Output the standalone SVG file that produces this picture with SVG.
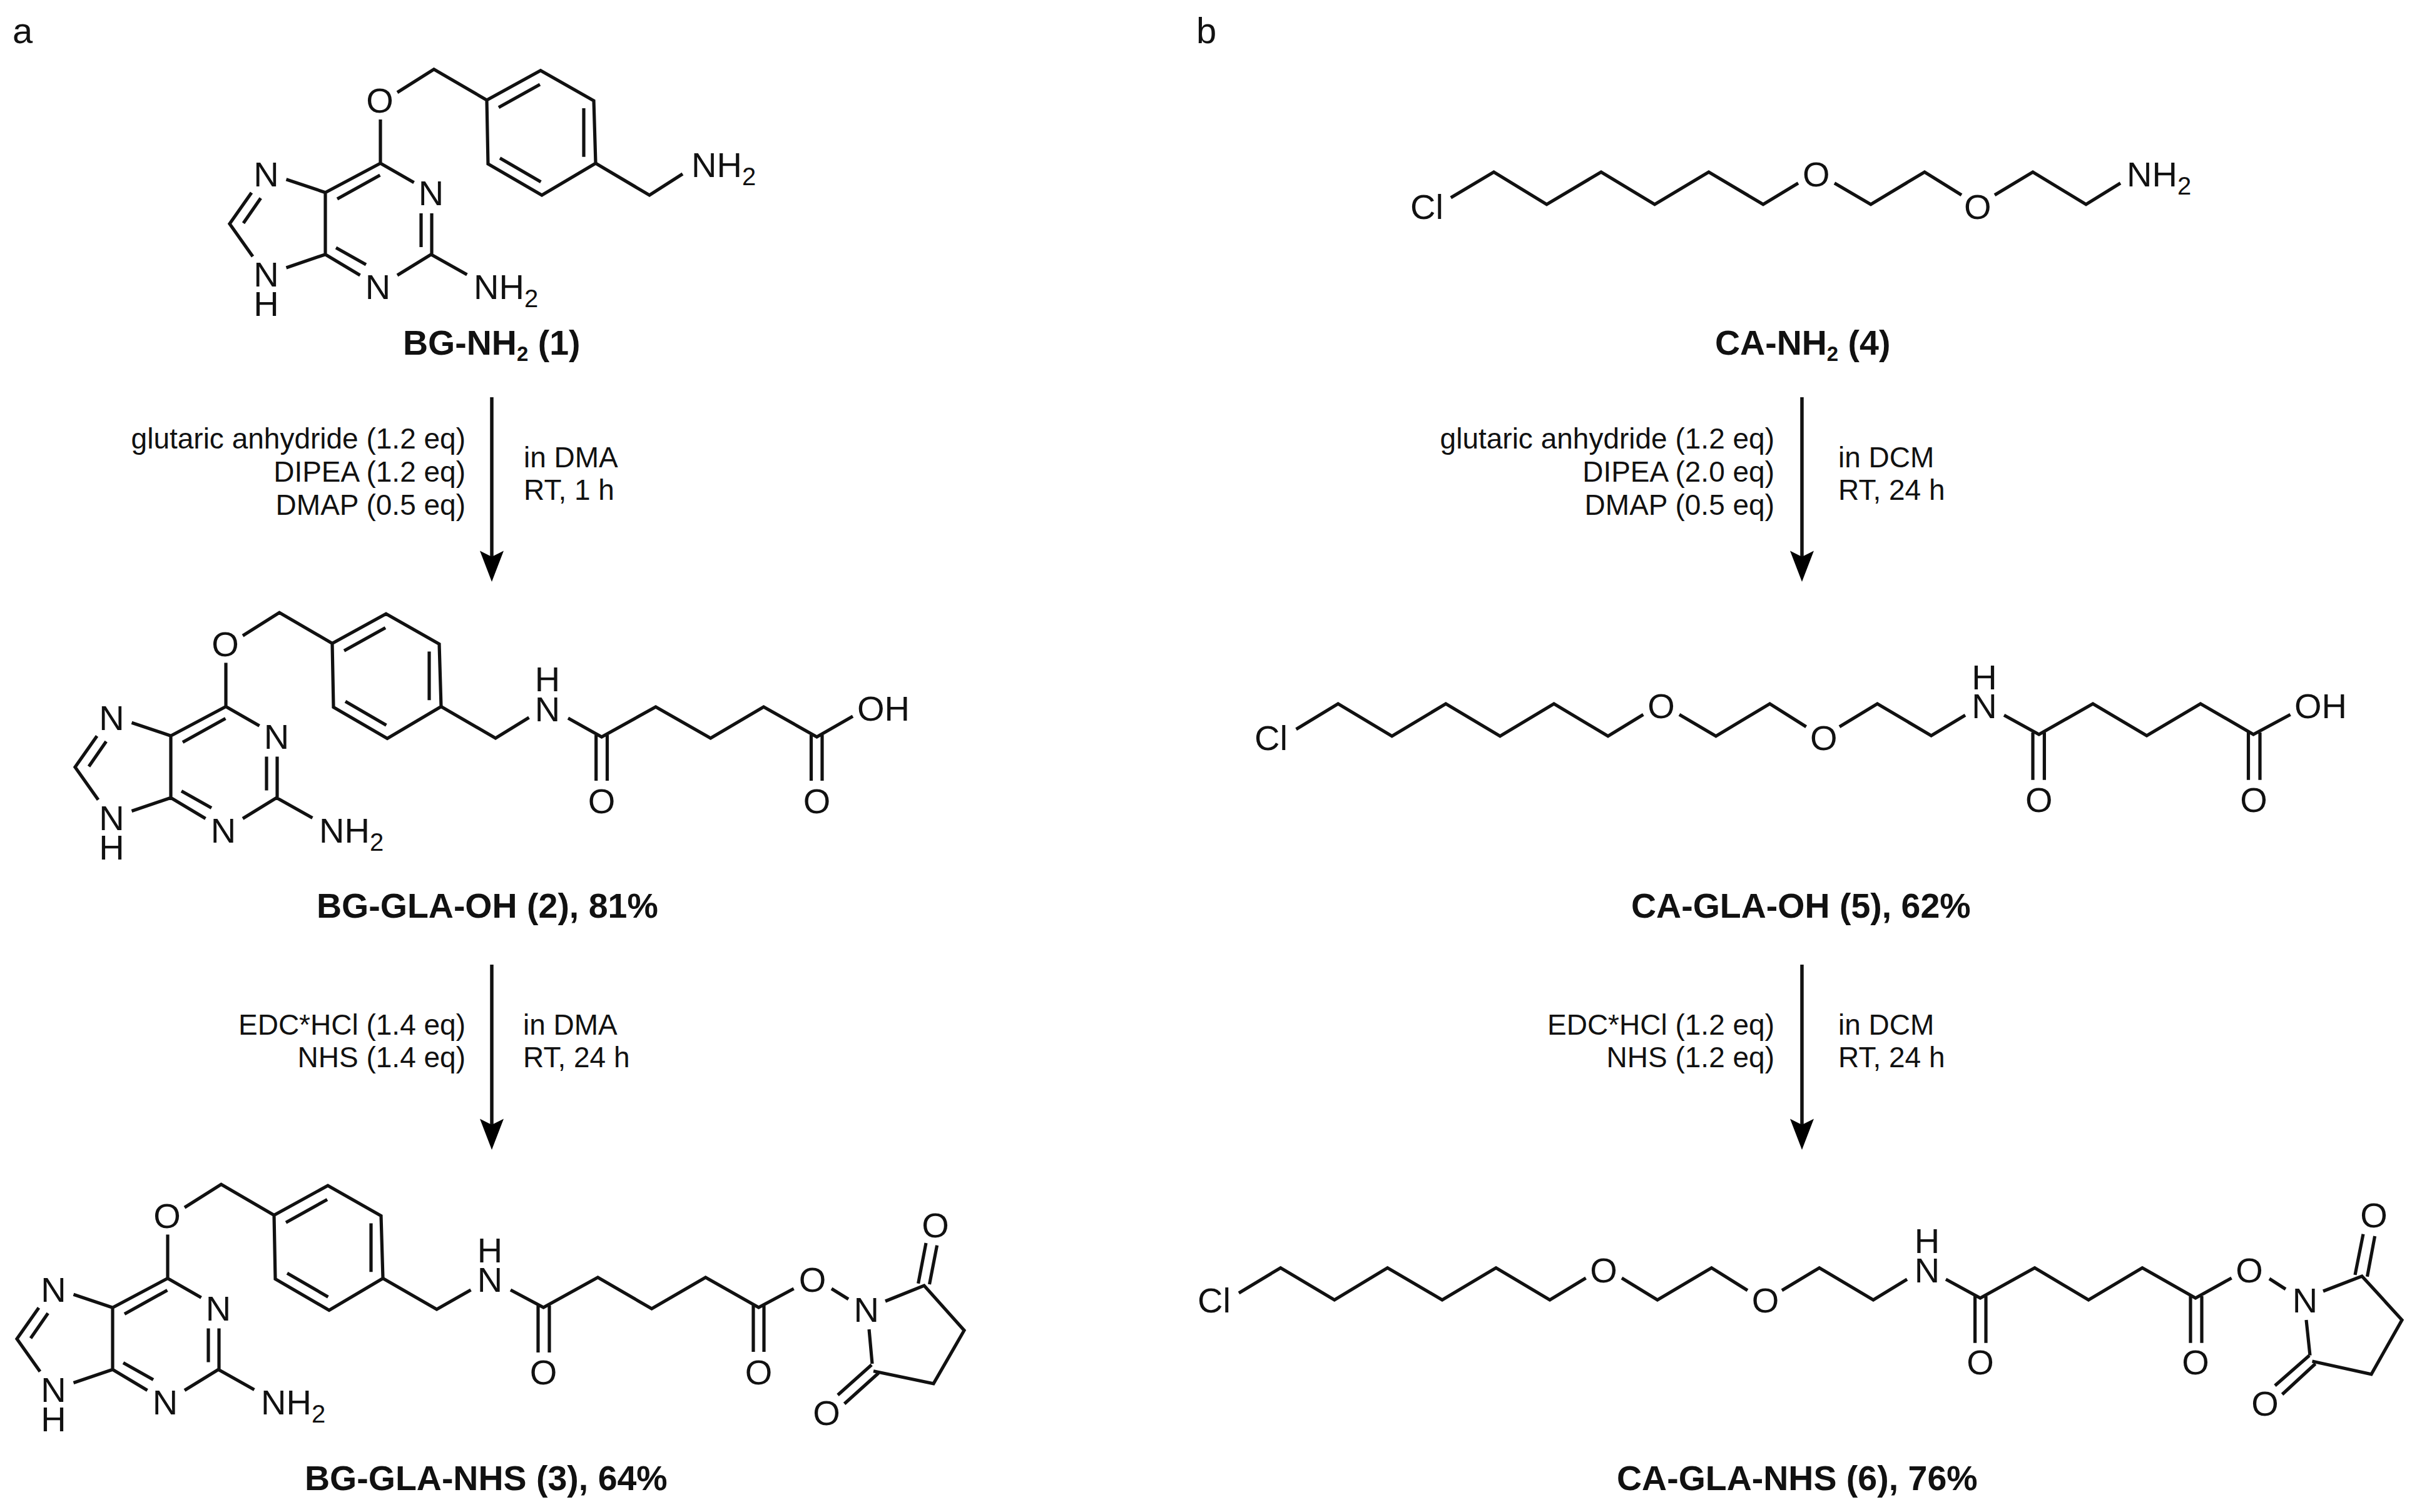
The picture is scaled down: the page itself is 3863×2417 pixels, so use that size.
<svg xmlns="http://www.w3.org/2000/svg" xmlns:xlink="http://www.w3.org/1999/xlink" width="3863" height="2417" viewBox="0 0 3863 2417">
<style>
text{font-family:"Liberation Sans",Arial,sans-serif;fill:#111}
.atom{font-size:56px;text-anchor:middle}
.atoms{font-size:56px}
.sub{font-size:40px}
.cond{font-size:46px}
.condr{font-size:46px;text-anchor:end}
.name{font-size:55.5px;font-weight:bold}
.lsub{font-size:33px}
.panel{font-size:58px}
.bond{fill:none;stroke:#111;stroke-width:5.2;stroke-linejoin:miter;stroke-linecap:butt}
.arrow{fill:none;stroke:#111;stroke-width:5.5}
</style>
<defs>
<marker id="head" markerUnits="userSpaceOnUse" viewBox="-10 -20 50 40" markerWidth="50" markerHeight="40" refX="0" refY="0" orient="auto">
<path d="M-9.5,-19 L40,0 L-9.5,19 L0,0Z" fill="#000"/>
</marker>
<path id="bg-core" class="bond" d="M608,191V261L520,307.7V406.7L575.5,440M539,318L607.4,280M608,261L661.6,291.7M537,396L585,423M635,440L689,406.7L746.4,439M690,341V406.7M673,341V395M520,307.7L457.5,286.7M402,308L367,357.7L404,410M416.7,316.7L389,356.7M520,406.7L457.5,428M635,147.7L693.5,110.7L778,160L864,112.7L949,161L952,261L866,312L780,262L778,160M797,171.7L863,135M933,173V250.7M799,252.7L864.4,290.7"/>
</defs>

<g id="panel-labels">
<text class="panel" x="20" y="69">a</text>
<text class="panel" x="1912" y="69">b</text>
</g>

<g id="connectors">
<line class="arrow" x1="786" y1="635" x2="786" y2="890" marker-end="url(#head)"/>
<line class="arrow" x1="786" y1="1542" x2="786" y2="1798" marker-end="url(#head)"/>
<line class="arrow" x1="2880" y1="635" x2="2880" y2="890" marker-end="url(#head)"/>
<line class="arrow" x1="2880" y1="1542" x2="2880" y2="1798" marker-end="url(#head)"/>
</g>

<g id="conditions-1">
<text class="condr" x="744" y="716.7">glutaric anhydride (1.2 eq)</text>
<text class="condr" x="744" y="770">DIPEA (1.2 eq)</text>
<text class="condr" x="744" y="823.3">DMAP (0.5 eq)</text>
<text class="cond" x="837" y="746.7">in DMA</text>
<text class="cond" x="837" y="799">RT, 1 h</text>
</g>
<g id="conditions-2">
<text class="condr" x="744" y="1654.3">EDC*HCl (1.4 eq)</text>
<text class="condr" x="744" y="1705.7">NHS (1.4 eq)</text>
<text class="cond" x="836" y="1654.3">in DMA</text>
<text class="cond" x="836" y="1705.7">RT, 24 h</text>
</g>
<g id="conditions-4">
<text class="condr" x="2836" y="716.7">glutaric anhydride (1.2 eq)</text>
<text class="condr" x="2836" y="770">DIPEA (2.0 eq)</text>
<text class="condr" x="2836" y="823.3">DMAP (0.5 eq)</text>
<text class="cond" x="2938" y="746.7">in DCM</text>
<text class="cond" x="2938" y="799">RT, 24 h</text>
</g>
<g id="conditions-5">
<text class="condr" x="2836" y="1654.3">EDC*HCl (1.2 eq)</text>
<text class="condr" x="2836" y="1705.7">NHS (1.2 eq)</text>
<text class="cond" x="2938" y="1654.3">in DCM</text>
<text class="cond" x="2938" y="1705.7">RT, 24 h</text>
</g>

<g id="BG-NH2">
<use href="#bg-core" xlink:href="#bg-core"/>
<path class="bond" d="M952,261L1038,312L1091,278"/>
<text class="atom" x="607" y="180">O</text>
<text class="atom" x="425.6" y="298">N</text>
<text class="atom" x="689" y="328">N</text>
<text class="atom" x="425.6" y="458">N</text>
<text class="atom" x="425.6" y="505">H</text>
<text class="atom" x="604" y="478">N</text>
<text class="atoms" x="757" y="478">NH<tspan class="sub" dy="13">2</tspan></text>
<text class="atoms" x="1105" y="283">NH<tspan class="sub" dy="13">2</tspan></text>
<text class="name" x="644" y="567">BG-NH<tspan class="lsub" dy="10">2</tspan><tspan dy="-10"> (1)</tspan></text>
</g>

<g id="BG-GLA-OH">
<use href="#bg-core" xlink:href="#bg-core" transform="translate(-247 868.5)"/>
<path class="bond" d="M705,1129.5L792,1180L845.5,1147M908,1148L961.6,1178L1048,1130L1135.7,1180L1220.5,1130L1305.5,1178L1363,1145M952.7,1175V1248M970.5,1175V1248M1296.5,1175V1248M1314,1175V1248"/>
<g transform="translate(-247 868.5)">
<text class="atom" x="607" y="180">O</text>
<text class="atom" x="425.6" y="298">N</text>
<text class="atom" x="689" y="328">N</text>
<text class="atom" x="425.6" y="458">N</text>
<text class="atom" x="425.6" y="505">H</text>
<text class="atom" x="604" y="478">N</text>
<text class="atoms" x="757" y="478">NH<tspan class="sub" dy="13">2</tspan></text>
</g>
<text class="atom" x="875" y="1153">N</text>
<text class="atom" x="875" y="1105">H</text>
<text class="atom" x="961.6" y="1300">O</text>
<text class="atom" x="1305.5" y="1300">O</text>
<text class="atoms" x="1370" y="1151.7">OH</text>
<text class="name" x="506" y="1466.7">BG-GLA-OH (2), 81%</text>
</g>

<g id="BG-GLA-NHS">
<use href="#bg-core" xlink:href="#bg-core" transform="translate(-340 1782.5)"/>
<path class="bond" d="M612,2043.5L698,2093L752.5,2062M816,2062L868.6,2090L955.5,2042L1041.6,2092L1127.7,2042L1212.5,2090L1268.6,2060M1329,2060L1356,2076.7M1415,2080L1477,2055L1541,2126.7L1492,2211.7L1396,2191.7M1394,2180L1389,2125M860,2087V2162M878,2087V2162M1204,2087V2161M1221,2087V2161M1467.6,2051.7L1480,1987M1485.5,2053L1497.6,1990.7M1393,2181.7L1339,2230M1404,2195L1349.6,2244"/>
<g transform="translate(-340 1782.5)">
<text class="atom" x="607" y="180">O</text>
<text class="atom" x="425.6" y="298">N</text>
<text class="atom" x="689" y="328">N</text>
<text class="atom" x="425.6" y="458">N</text>
<text class="atom" x="425.6" y="505">H</text>
<text class="atom" x="604" y="478">N</text>
<text class="atoms" x="757" y="478">NH<tspan class="sub" dy="13">2</tspan></text>
</g>
<text class="atom" x="783" y="2065">N</text>
<text class="atom" x="783" y="2018">H</text>
<text class="atom" x="868.6" y="2213">O</text>
<text class="atom" x="1212.5" y="2213">O</text>
<text class="atom" x="1298.6" y="2065">O</text>
<text class="atom" x="1384.7" y="2113">N</text>
<text class="atom" x="1495" y="1978">O</text>
<text class="atom" x="1321" y="2278">O</text>
<text class="name" x="487" y="2381.7">BG-GLA-NHS (3), 64%</text>
</g>

<g id="CA-NH2">
<path class="bond" d="M2318.8,316L2387.5,275L2472,326.7L2559,275L2644.6,326.7L2731,275L2818,326.7L2874,292.7M2932,292.7L2990,326.7L3076,275L3135,311.7M3188,311.7L3249,275L3334,326.7L3389,292.7"/>
<text class="atoms" x="2254" y="350">Cl</text>
<text class="atom" x="2902.7" y="298">O</text>
<text class="atom" x="3160.7" y="350">O</text>
<text class="atoms" x="3399" y="298">NH<tspan class="sub" dy="13">2</tspan></text>
<text class="name" x="2741" y="566.7">CA-NH<tspan class="lsub" dy="10">2</tspan><tspan dy="-10"> (4)</tspan></text>
</g>

<g id="CA-GLA-OH">
<path class="bond" d="M2071.6,1165.7L2138.6,1125L2224.7,1176.7L2310.8,1125L2397.5,1176.7L2483.6,1125L2570,1176.7L2626.4,1142.3M2684,1142.3L2742.5,1176.7L2828.6,1125L2886.7,1161.7M2940,1161.7L3000.5,1125L3086.6,1176L3141,1143.3M3203,1143.3L3258.8,1174L3345,1125L3431,1176L3517,1125L3601.5,1174L3660.6,1142.3M3249,1171V1246.7M3267.4,1171V1246.7M3593.5,1171V1246.7M3612,1171V1246.7"/>
<text class="atoms" x="2005" y="1199">Cl</text>
<text class="atom" x="2655" y="1148">O</text>
<text class="atom" x="2914.7" y="1199">O</text>
<text class="atom" x="3171.5" y="1148">N</text>
<text class="atom" x="3171.5" y="1101.7">H</text>
<text class="atom" x="3258.8" y="1298">O</text>
<text class="atom" x="3602" y="1298">O</text>
<text class="atoms" x="3667" y="1148">OH</text>
<text class="name" x="2607" y="1466.7">CA-GLA-OH (5), 62%</text>
</g>

<g id="CA-GLA-NHS">
<path class="bond" d="M1980,2067L2046.7,2026.7L2132.8,2078L2217.6,2026.7L2305,2078L2391,2026.7L2477,2078L2534.6,2043M2592,2043L2649,2078L2735.5,2026.7L2793,2062.7M2848,2062.7L2907.8,2026.7L2994,2078L3048,2045M3110,2045L3165,2075L3252,2026.7L3338,2078L3424,2026.7L3509,2075L3566.6,2043M3627,2044L3653,2060.7M3713,2064L3775,2040L3839,2110L3790,2196.7L3695.5,2176M3692,2166.7L3686,2110M3156.6,2072V2146.7M3174,2072V2146.7M3501,2072V2146.7M3519,2072V2146.7M3764,2038L3777,1972.7M3783.5,2040.7L3795.6,1976M3691,2166.7L3636,2215M3700.6,2180L3647.6,2229"/>
<text class="atoms" x="1914" y="2098">Cl</text>
<text class="atom" x="2563" y="2050">O</text>
<text class="atom" x="2821.6" y="2098">O</text>
<text class="atom" x="3080" y="2050">N</text>
<text class="atom" x="3080" y="2003">H</text>
<text class="atom" x="3165" y="2197">O</text>
<text class="atom" x="3509" y="2197">O</text>
<text class="atom" x="3595" y="2050">O</text>
<text class="atom" x="3684" y="2098">N</text>
<text class="atom" x="3794" y="1962">O</text>
<text class="atom" x="3620" y="2263">O</text>
<text class="name" x="2584" y="2381.7">CA-GLA-NHS (6), 76%</text>
</g>
</svg>
